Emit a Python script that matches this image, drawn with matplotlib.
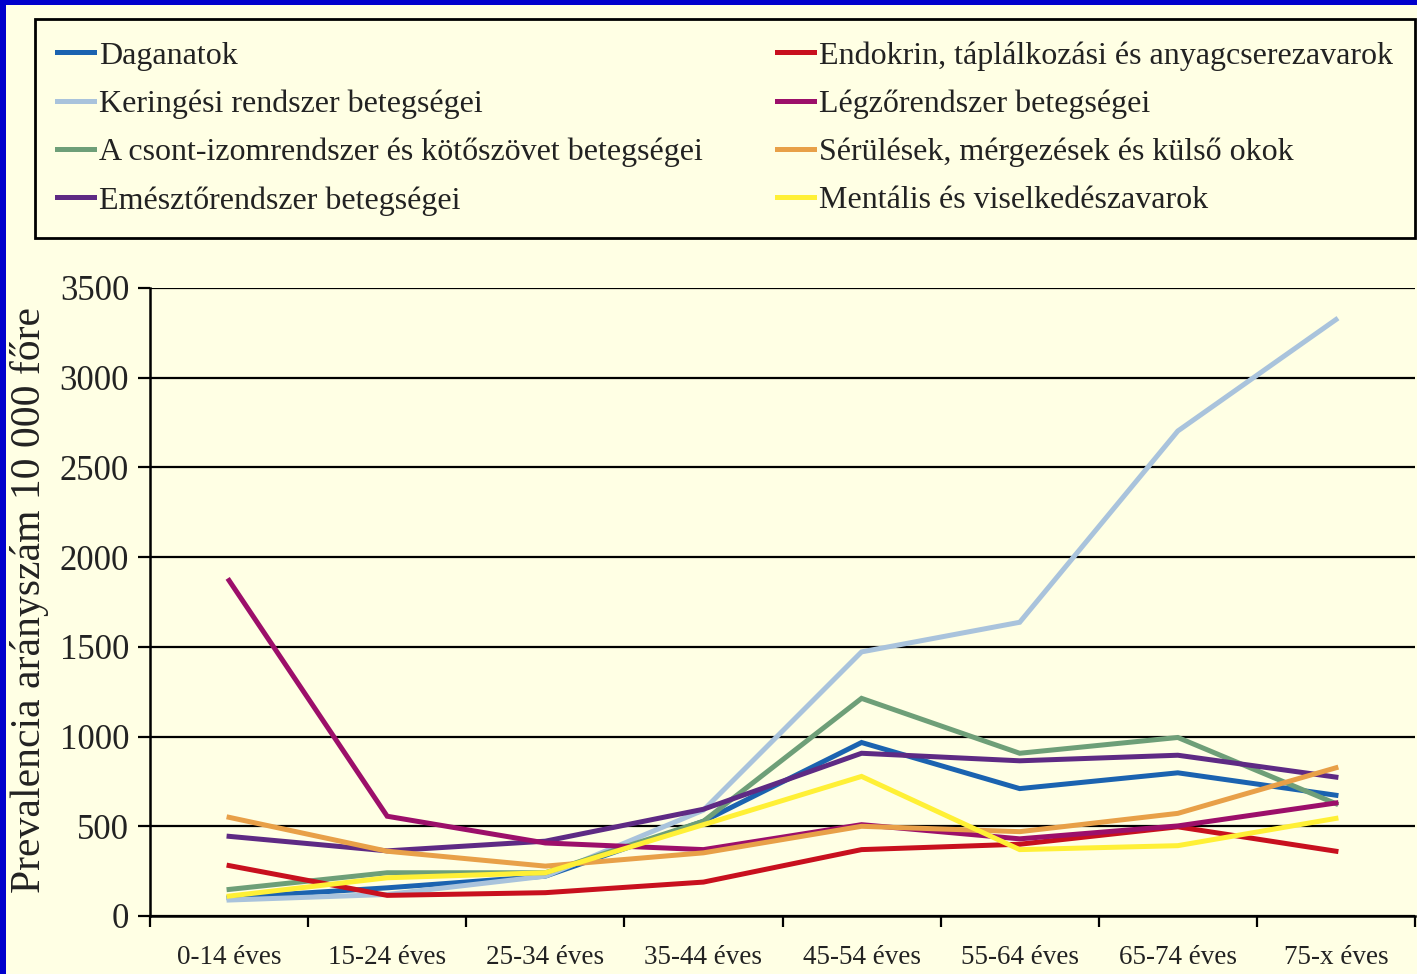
import matplotlib
matplotlib.use("Agg")
import matplotlib.pyplot as plt
from matplotlib.patches import Rectangle

categories = ["0-14 éves", "15-24 éves", "25-34 éves", "35-44 éves",
              "45-54 éves", "55-64 éves", "65-74 éves", "75-x éves"]

daganatok = [102, 157, 222, 528, 967, 710, 798, 673]
keringesi = [89, 120, 222, 590, 1472, 1637, 2703, 3324]
csont = [148, 241, 241, 528, 1213, 907, 995, 626]
emeszto = [444, 363, 417, 595, 907, 865, 896, 774]
endokrin = [281, 115, 130, 189, 370, 400, 497, 361]
legzo = [1870, 556, 407, 370, 509, 430, 502, 630]
serulesek = [550, 361, 278, 352, 500, 470, 572, 826]
mentalis = [111, 213, 241, 509, 778, 370, 392, 544]

series_names = [
    "Daganatok",
    "Keringési rendszer betegségei",
    "A csont-izomrendszer és kötőszövet betegségei",
    "Emésztőrendszer betegségei",
    "Endokrin, táplálkozási és anyagcserezavarok",
    "Légzőrendszer betegségei",
    "Sérülések, mérgezések és külső okok",
    "Mentális és viselkedészavarok",
]
series_values = [daganatok, keringesi, csont, emeszto, endokrin, legzo, serulesek, mentalis]
series_colors = ["#1B63B0", "#A9C3DC", "#6E9F78", "#5E2A84",
                 "#C8101E", "#9C0F6A", "#E8A048", "#FFF036"]

yticks = [0, 500, 1000, 1500, 2000, 2500, 3000, 3500]
ylabel = "Prevalencia arányszám 10 000 főre"

plt.rcParams['font.family'] = ['Liberation Serif', 'DejaVu Serif']

W, H = 1417, 974
bg = "#FFFFE4"
fig = plt.figure(figsize=(W / 100, H / 100), dpi=100, facecolor=bg)

ax = fig.add_axes([150 / W, 1 - 916 / H, (1415 - 150) / W, (916 - 288) / H])
ax.set_facecolor(bg)

x = list(range(len(categories)))
handles = []
for name, vals, col in zip(series_names, series_values, series_colors):
    ln, = ax.plot(x, vals, color=col, lw=3.6, label=name, solid_joinstyle='miter')
    handles.append(ln)

ax.set_xlim(-0.5, len(categories) - 0.5)
ax.set_ylim(0, 3500)
ax.set_yticks(yticks)
ax.set_yticklabels([str(v) for v in yticks], fontsize=25)
ax.yaxis.grid(True, color="black", lw=1.6)
ax.set_axisbelow(True)

ax.set_xticks(x)
ax.set_xticklabels(categories, fontsize=19.5)
ax.set_xticks([i - 0.5 for i in range(len(categories) + 1)], minor=True)
ax.tick_params(axis='x', which='major', length=0, pad=21, colors='#222222')
ax.tick_params(axis='x', which='minor', length=8, width=1.6, color='black')
ax.tick_params(axis='y', length=9, width=1.6, pad=6, colors='#222222')
ax.tick_params(axis='y', color='black')

for s in ['top', 'right']:
    ax.spines[s].set_visible(False)
for s in ['left', 'bottom']:
    ax.spines[s].set_linewidth(1.8)
    ax.spines[s].set_color('black')

fig.text(30 / W, 1 - 600 / H, ylabel, rotation=90, fontsize=30,
         ha='center', va='center', color='#222222')

leg = fig.legend(handles=handles, loc='lower left', ncol=2, mode='expand',
                 bbox_to_anchor=(35 / W, 1 - 238 / H, 1380 / W, 220 / H),
                 fontsize=23, frameon=True, fancybox=False, edgecolor='black',
                 facecolor=bg, framealpha=1, handlelength=1.15, handletextpad=0.15,
                 labelspacing=0.59, borderpad=0.7, borderaxespad=0)
leg.get_frame().set_linewidth(2)
for t in leg.get_texts():
    t.set_color('#222222')

# blue slide border (top and left)
fig.patches.append(Rectangle((0, 1 - 5 / H), 1, 5 / H, transform=fig.transFigure,
                             facecolor='#0000CC', edgecolor='none'))
fig.patches.append(Rectangle((0, 0), 6 / W, 1, transform=fig.transFigure,
                             facecolor='#0000CC', edgecolor='none'))

fig.savefig("out.png", dpi=100, facecolor=bg)
